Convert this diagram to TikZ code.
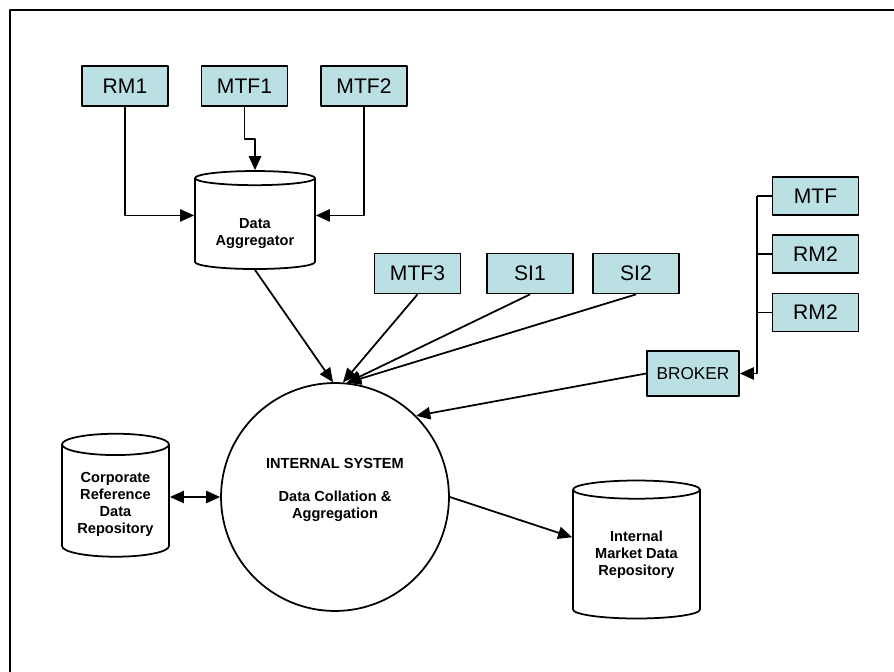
\documentclass[tikz,border=0pt]{standalone}
\usepackage{fontspec}
\setmainfont{Liberation Sans}
\usetikzlibrary{arrows.meta,shapes.geometric}
\definecolor{feedfill}{RGB}{187,224,227}
\begin{document}
\begin{tikzpicture}[x=0.02cm, y=-0.02cm, line width=1pt, line join=round,
    >={Triangle[length=8pt,width=7pt]},
    feed/.style={draw, fill=feedfill, minimum width=1.72cm, minimum height=0.8cm,
      inner sep=0pt, font=\fontsize{12}{14}\selectfont},
    store/.style={draw, fill=white, cylinder, shape border rotate=90, inner sep=0pt,
      align=center, font=\bfseries\fontsize{8.3}{9.6}\selectfont}]
  \useasboundingbox (0,0) rectangle (894,672);
  % the page frame, open to the right and below
  \draw (10,672) -- (10,10) -- (894,10);
  % feeds along the top
  \node[feed] (rm1) at (125,86) {RM1};
  \node[feed] (mtf1) at (244.5,86) {MTF1};
  \node[feed] (mtf2) at (364,86) {MTF2};
  \node[feed] (mtf3) at (417.5,273.5) {MTF3};
  \node[feed] (si1) at (530,273.5) {SI1};
  \node[feed] (si2) at (636,273.5) {SI2};
  % feeds on the right, through the broker
  \node[feed, minimum height=0.76cm] (mtf) at (815.5,196) {MTF};
  \node[feed, minimum height=0.76cm] (rm2a) at (815.5,254) {RM2};
  \node[feed, minimum height=0.76cm] (rm2b) at (815.5,312.5) {RM2};
  \node[feed, minimum width=1.84cm, minimum height=0.9cm, font=\fontsize{9.8}{12}\selectfont]
    (broker) at (693,373.5) {BROKER};
  % the stores (the rules push the text down into the body)
  \node[store, minimum width=2.4cm, minimum height=1.96cm, aspect=0.18] (agg) at (255,224)
    {\rule{0pt}{17pt}Data\\Aggregator};
  \node[store, minimum width=2.14cm, minimum height=2.46cm, aspect=0.28] (corp) at (115.5,501)
    {\rule{0pt}{9.5pt}Corporate\\Reference\\Data\\Repository};
  \node[store, minimum width=2.54cm, minimum height=2.76cm, aspect=0.22] (mkt) at (636.5,554.5)
    {Internal\\Market Data\\Repository};
  % the internal system
  \node[draw, circle, minimum size=4.56cm, inner sep=0pt, align=center,
    font=\bfseries\fontsize{8.3}{9.6}\selectfont] (sys) at (335,497)
    {INTERNAL SYSTEM\\[9pt]Data Collation \&\\Aggregation\rule[-9.7pt]{0pt}{0pt}};
  % into the aggregator
  \draw[->] (rm1.south) |- (agg.172);
  \draw[->] (mtf2.south) |- (agg.8);
  \draw[->] (mtf1.south) -- ++(0,32) -| (agg.north);
  % into the internal system
  \draw[->] (agg.south) -- (sys.91);
  \foreach \f/\a in {mtf3/86, si1/84, si2/84} { \draw[->] (\f.south) -- (sys.\a); }
  \coordinate (bus) at (757,196);
  \draw (mtf.west) -- (bus);
  \foreach \f in {rm2a, rm2b} { \draw (\f.west) -- (bus |- \f.west); }
  \draw[->] (bus) |- (broker.east);
  \draw[->] (broker.west) -- (sys.45);
  % out to the stores
  \draw[<->] (corp.east |- sys.west) -- (sys.west);
  \draw[->] (sys.0) -- (mkt.165);
\end{tikzpicture}
\end{document}
